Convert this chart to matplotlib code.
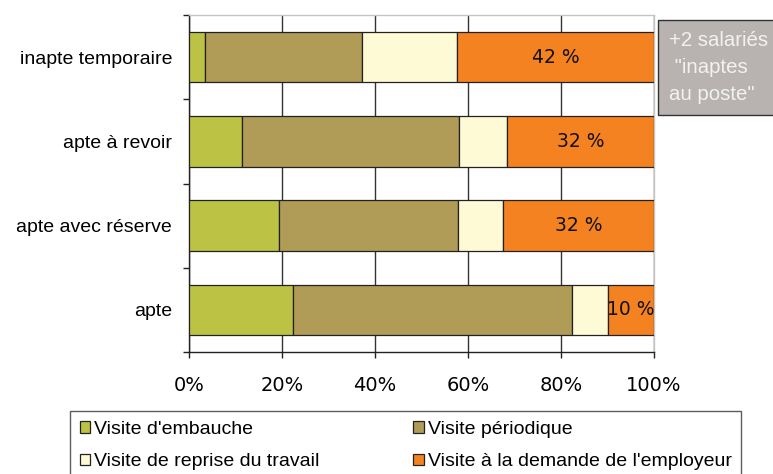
import matplotlib
matplotlib.use("Agg")
import matplotlib.pyplot as plt
from matplotlib.patches import Rectangle
import numpy as np

categories = ["inapte temporaire", "apte à revoir", "apte avec réserve", "apte"]
embauche = [3.4, 11.4, 19.3, 22.4]
periodique = [33.8, 46.7, 38.6, 60.0]
reprise = [20.4, 10.2, 9.7, 7.6]
employeur = [42.4, 31.7, 32.4, 10.0]
employeur_labels = ["42 %", "32 %", "32 %", "10 %"]
series_names = ["Visite d'embauche", "Visite périodique",
                "Visite de reprise du travail", "Visite à la demande de l'employeur"]
colors = ["#bcc244", "#b09c56", "#fffad6", "#f58220"]
xticks = [0, 20, 40, 60, 80, 100]
xticklabels = ["0%", "20%", "40%", "60%", "80%", "100%"]
note_text = "+2 salariés\n \"inaptes\nau poste\""

plt.rcParams['font.family'] = ['Liberation Sans', 'DejaVu Sans']
FS = 14
NUMFONT = ['DejaVu Sans']

fig = plt.figure(figsize=(7.73, 4.74), dpi=100)
W, H = 773, 474
ax = fig.add_axes([189 / W, 1 - 352 / H, (654 - 189) / W, (352 - 15) / H])

y = np.arange(len(categories))[::-1]
series = [embauche, periodique, reprise, employeur]
left = np.zeros(len(categories))
bars = []
for vals, name, c in zip(series, series_names, colors):
    b = ax.barh(y, vals, left=left, height=0.6, color=c, edgecolor="#222222",
                linewidth=0.9, label=name, zorder=3)
    bars.append(b)
    left = left + np.array(vals)

# labels in employeur segment
emp_left = left - np.array(employeur)
for yi, l, v, t in zip(y, emp_left, employeur, employeur_labels):
    ax.text(l + v / 2, yi, t, ha="center", va="center", fontsize=13.5,
            family=NUMFONT, color="#111111", zorder=4)

ax.set_xlim(0, 100)
ax.set_ylim(-0.5, len(categories) - 0.5)
ax.set_xticks(xticks)
ax.set_xticklabels(xticklabels, fontsize=14, family=NUMFONT)
ax.set_yticks(y)
ax.set_yticklabels(categories, fontsize=FS)
ax.set_yticks(np.arange(len(categories) + 1) - 0.5, minor=True)
ax.tick_params(axis="y", which="major", length=0, pad=17 / 1.389)
ax.tick_params(axis="y", which="minor", length=4.5, width=1, color="#222222", direction="out")
ax.tick_params(axis="x", length=4.5, width=1, color="#222222", direction="out", pad=12.5)
ax.xaxis.grid(True, color="#333333", linewidth=1.0, zorder=0)
ax.set_axisbelow(True)
for s in ["left", "bottom"]:
    ax.spines[s].set_color("#222222")
    ax.spines[s].set_linewidth(1.0)
for s in ["top", "right"]:
    ax.spines[s].set_color("#c4c4c4")
    ax.spines[s].set_linewidth(1.0)

# note box
fig.patches.append(Rectangle((658 / W, 1 - 115 / H), 200 / W, 95 / H,
                             transform=fig.transFigure, facecolor="#b8b3b0",
                             edgecolor="#333333", linewidth=1.0))
fig.text(669 / W, 1 - 31 / H, note_text, ha="left", va="top", fontsize=14.7,
         color="#f2f2f2", linespacing=1.55)

handles = [bars[0], bars[2], bars[1], bars[3]]
labels = [series_names[0], series_names[2], series_names[1], series_names[3]]
leg = fig.legend(handles, labels, loc="upper left",
                 bbox_to_anchor=(70 / W, 1 - 411 / H), ncol=2, fontsize=14,
                 frameon=True, fancybox=False, borderaxespad=0,
                 handlelength=0.55, handleheight=0.55, handletextpad=0.2,
                 columnspacing=4.8, labelspacing=0.8, borderpad=0.5)
leg.get_frame().set_edgecolor("#333333")
leg.get_frame().set_linewidth(1.0)

fig.savefig("out.png", dpi=100)
